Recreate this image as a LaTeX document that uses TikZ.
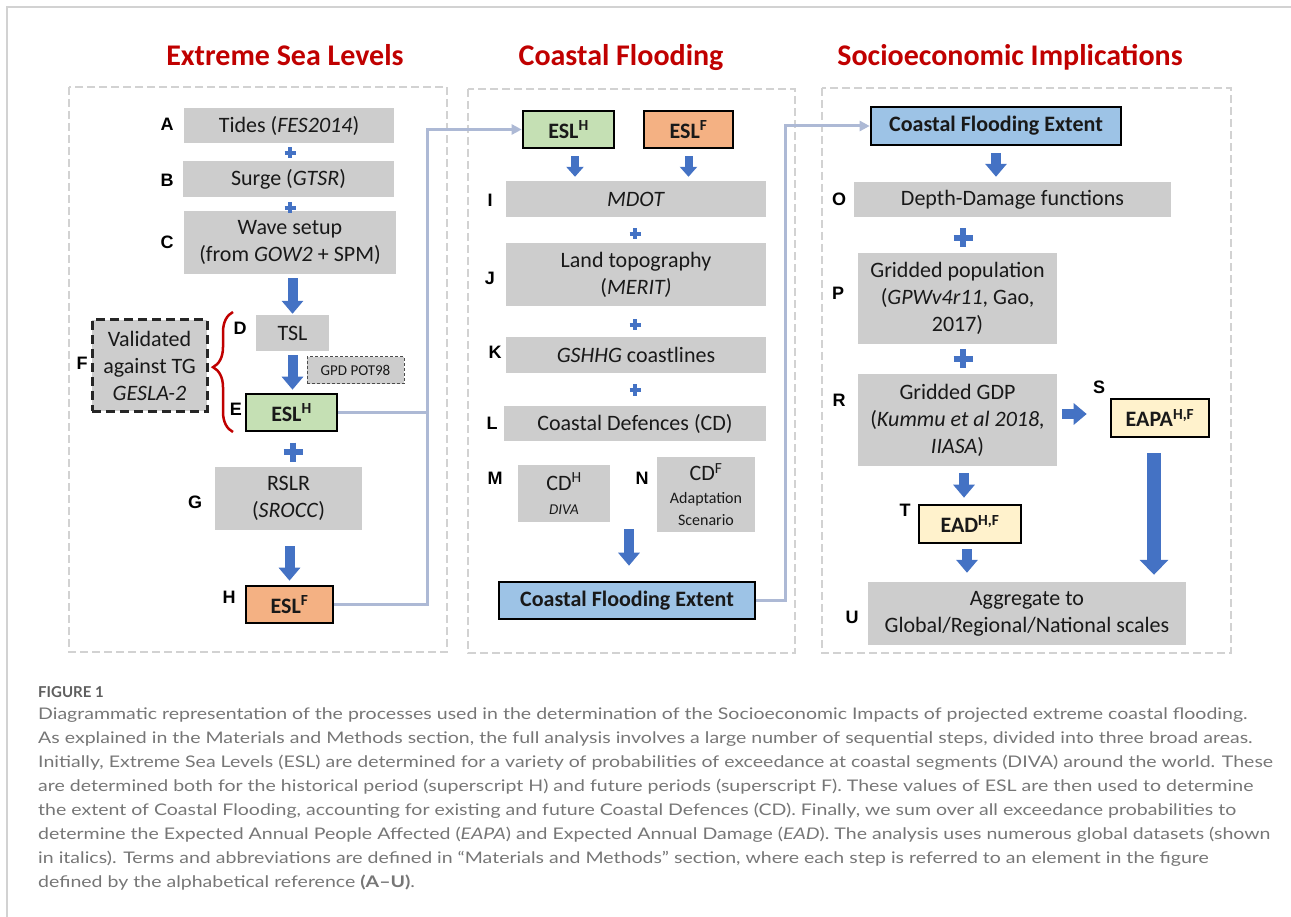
\documentclass[tikz,border=0pt]{standalone}
\usepackage{fontspec}
\setmainfont{Carlito}
\newfontfamily\lblfont{Liberation Sans}
\newfontfamily\capfont{Lato}[FakeStretch=1.22]
\newfontfamily\capheadfont{Lato}
\usepackage{tikz}
\usetikzlibrary{positioning}
\usetikzlibrary{arrows.meta}
\usetikzlibrary{decorations.pathreplacing}

\definecolor{boxgray}{RGB}{205,205,205}
\definecolor{eslgreen}{RGB}{197,224,180}
\definecolor{eslorange}{RGB}{244,177,131}
\definecolor{floodblue}{RGB}{157,195,230}
\definecolor{impyellow}{RGB}{255,242,204}
\definecolor{flowblue}{RGB}{68,114,196}
\definecolor{linkgray}{RGB}{173,185,213}
\definecolor{titlered}{RGB}{192,0,0}
\definecolor{panelgray}{RGB}{210,210,210}
\definecolor{capgray}{RGB}{118,118,118}

\tikzset{
	proc/.style={fill=boxgray, inner sep=0pt, align=center, text=black!90, font=\fontsize{22}{27}\selectfont},
	keybox/.style={proc, draw=black, line width=2.6pt, font=\bfseries\fontsize{22}{27}\selectfont},
	lbl/.style={inner sep=0pt, font=\lblfont\bfseries\fontsize{18}{18}\selectfont},
	heading/.style={anchor=base, inner sep=0pt, text=titlered, font=\bfseries\fontsize{30}{30}\selectfont},
	panel/.style={draw=panelgray, line width=2pt, dash pattern=on 8pt off 4pt},
	frame/.style={draw=panelgray, line width=1.6pt},
	link/.style={draw=linkgray, line width=3pt},
	flow/.style={draw=flowblue, line width=10pt, -{Triangle[length=13pt, width=21pt]}},
	smallflow/.style={draw=flowblue, line width=8pt, -{Triangle[length=10pt, width=17pt]}},
	bigflow/.style={draw=flowblue, line width=14pt, -{Triangle[length=15pt, width=28pt]}},
	pics/smallplus/.style={code={
		\draw[flowblue, line width=4pt] (-5.5,0) -- (5.5,0) (0,-5.5) -- (0,5.5);
	}},
	pics/bigplus/.style={code={
		\draw[flowblue, line width=6.5pt] (-9.5,0) -- (9.5,0) (0,-9.5) -- (0,9.5);
	}},
	capline/.style={anchor=base west, inner sep=0pt, text=capgray, font=\capfont\fontsize{16}{24}\selectfont},
}

\begin{document}
\begin{tikzpicture}[x=1pt, y=-1pt]
		
		% ---------------------
		% Proper size --- Bounding box
		\useasboundingbox (0,0) rectangle (1291,917);
		\draw[frame] (7,917) -- (7,7) -- (1291,7);
		
		% ---------------------
		% Panels & headings
		\draw[panel] (69,87) rectangle (447,652);
		\draw[panel] (468,89) rectangle (795,653);
		\draw[panel] (822,88) rectangle (1231,653);
		
		\node[heading] (hSea) at (285,66) {Extreme Sea Levels};
		\node[heading] (hFlood) at (621,66) {Coastal Flooding};
		\node[heading] (hSocio) at (1010,66) {Socioeconomic Implications};
		
		% ---------------------
		% Extreme Sea Levels
		\node[proc, minimum width=210pt, minimum height=35pt] (tides) at (289,125.5) {Tides (\textit{FES2014})};
		\node[proc, minimum width=211pt, minimum height=36pt] (surge) at (288.5,179) {Surge (\textit{GTSR})};
		\node[proc, minimum width=212pt, minimum height=63pt] (wave) at (290,242.5) {Wave setup\\(from \textit{GOW2} + SPM)};
		\node[proc, minimum width=73pt, minimum height=36pt] (tsl) at (292.5,333) {TSL};
		\node[proc, minimum width=97pt, minimum height=27pt, draw=black!70, line width=1pt, dash pattern=on 3pt off 2pt, font=\fontsize{15}{15}\selectfont] (gpd) at (355.5,370.5) {GPD POT98};
		\node[keybox, fill=eslgreen, minimum width=91pt, minimum height=37pt] (eslh1) at (291.5,412.5) {ESL\textsuperscript{H}};
		\node[proc, minimum width=115pt, minimum height=91pt, draw=black!85, line width=3pt, dash pattern=on 9pt off 5pt] (valid) at (149.5,365.5) {Validated\\against TG\\\textit{GESLA-2}};
		\node[proc, minimum width=147pt, minimum height=63pt] (rslr) at (288.5,498.5) {RSLR\\(\textit{SROCC})};
		\node[keybox, fill=eslorange, minimum width=87pt, minimum height=37pt] (eslf1) at (289.5,604.5) {ESL\textsuperscript{F}};
		
		\node[lbl] (lA) at (167,124) {A};
		\node[lbl] (lB) at (167,180) {B};
		\node[lbl] (lC) at (167,242) {C};
		\node[lbl] (lD) at (240,328) {D};
		\node[lbl] (lE) at (236,409) {E};
		\node[lbl] (lF) at (82,363) {F};
		\node[lbl] (lG) at (195,502) {G};
		\node[lbl] (lH) at (229,597) {H};
		
		\pic at (290,153) {smallplus};
		\pic at (290,208) {smallplus};
		\pic at (293,452) {bigplus};
		
		\draw[flow, shorten <=4pt, shorten >=1pt] (tsl.north |- wave.south) -- (tsl.north);
		\draw[flow, shorten <=4pt, shorten >=3pt] (tsl.south) -- (tsl.south |- eslh1.north);
		\draw[flow, shorten <=16pt, shorten >=4pt] (eslf1.north |- rslr.south) -- (eslf1.north);
		
		\draw[titlered, line width=2.5pt, decorate, decoration={brace, amplitude=20pt, aspect=0.54}] (233,432) -- (233,312);
		
		% ---------------------
		% Coastal Flooding
		\node[keybox, fill=eslgreen, minimum width=91pt, minimum height=37pt] (eslh2) at (568.5,129.5) {ESL\textsuperscript{H}};
		\node[keybox, fill=eslorange, minimum width=89pt, minimum height=37pt] (eslf2) at (688.5,129.5) {ESL\textsuperscript{F}};
		\node[proc, minimum width=260pt, minimum height=36pt] (mdot) at (636,199) {\textit{MDOT}};
		\node[proc, minimum width=260pt, minimum height=63pt] (land) at (636,274.5) {Land topography\\(\textit{MERIT)}};
		\node[proc, minimum width=260pt, minimum height=36pt] (gshhg) at (636,355) {\textit{GSHHG} coastlines};
		\node[proc, minimum width=262pt, minimum height=35pt] (cdef) at (635,423.5) {Coastal Defences (CD)};
		\node[proc, minimum width=92pt, minimum height=57pt] (cdh) at (564,493.5) {CD\textsuperscript{H}\\[-3pt]{\fontsize{15}{18}\selectfont\itshape DIVA}};
		\node[proc, minimum width=98pt, minimum height=75pt] (cdf) at (706,494.5) {CD\textsuperscript{F}\\[-4pt]{\fontsize{16}{20}\selectfont Adaptation}\\[-5pt]{\fontsize{16}{20}\selectfont Scenario}};
		\node[keybox, fill=floodblue, minimum width=256pt, minimum height=37pt] (cfe1) at (627,600.5) {Coastal Flooding Extent};
		
		\node[lbl] (lI) at (490,200) {I};
		\node[lbl] (lJ) at (490,278) {J};
		\node[lbl] (lK) at (495,352) {K};
		\node[lbl] (lL) at (492,423) {L};
		\node[lbl] (lM) at (495,478) {M};
		\node[lbl] (lN) at (642,478) {N};
		
		\pic at (635,234) {smallplus};
		\pic at (635,325) {smallplus};
		\pic at (635,390) {smallplus};
		
		\draw[smallflow, shorten <=7pt, shorten >=4pt] ([xshift=6.5pt]eslh2.south) -- ([xshift=6.5pt]eslh2.south |- mdot.north);
		\draw[smallflow, shorten <=7pt, shorten >=4pt] (eslf2.south) -- (eslf2.south |- mdot.north);
		\draw[flow, shorten <=7pt, shorten >=15pt] ([xshift=2pt]cfe1.north |- cdh.south) -- ([xshift=2pt]cfe1.north);
		
		% ---------------------
		% Socioeconomic Implications
		\node[keybox, fill=floodblue, minimum width=250pt, minimum height=38pt] (cfe2) at (996,126) {Coastal Flooding Extent};
		\node[proc, minimum width=317pt, minimum height=35pt] (depth) at (1012.5,199.5) {Depth-Damage functions};
		\node[proc, minimum width=199pt, minimum height=91pt] (pop) at (957.5,298.5) {Gridded population\\(\textit{GPWv4r11}, Gao,\\2017)};
		\node[proc, minimum width=199pt, minimum height=92pt] (gdp) at (957.5,420) {Gridded GDP\\(\textit{Kummu et al 2018,}\\\textit{IIASA})};
		\node[keybox, fill=impyellow, minimum width=98pt, minimum height=38pt] (eapa) at (1160,418) {EAPA\textsuperscript{H,F}};
		\node[keybox, fill=impyellow, minimum width=102pt, minimum height=38pt] (ead) at (970,524) {EAD\textsuperscript{H,F}};
		\node[proc, minimum width=318pt, minimum height=63pt] (aggr) at (1027,613.5) {Aggregate to\\Global/Regional/National scales};
		
		\node[lbl] (lO) at (839,199) {O};
		\node[lbl] (lP) at (838,293) {P};
		\node[lbl] (lR) at (839,400) {R};
		\node[lbl] (lS) at (1099,387) {S};
		\node[lbl] (lT) at (905,510) {T};
		\node[lbl] (lU) at (852,617) {U};
		
		\pic at (963,238) {bigplus};
		\pic at (963,359) {bigplus};
		
		\draw[flow, shorten <=7pt, shorten >=5pt] (cfe2.south) -- (cfe2.south |- depth.north);
		\draw[flow, shorten <=5pt, shorten >=23pt] ([yshift=6pt]gdp.east) -- ([yshift=6pt]gdp.east -| eapa.west);
		\draw[flow, shorten <=7pt, shorten >=6pt] ([xshift=-6pt]ead.north |- gdp.south) -- ([xshift=-6pt]ead.north);
		\draw[flow, shorten <=5pt, shorten >=9pt] ([xshift=-3pt]ead.south) -- ([xshift=-3pt]ead.south |- aggr.north);
		\draw[bigflow, shorten <=15pt, shorten >=7pt] ([xshift=-6pt]eapa.south) -- ([xshift=-6pt]eapa.south |- aggr.north);
		
		% ---------------------
		% Links between panels
		\coordinate (busL) at (427,604.5);
		\coordinate (busR) at (785,600.5);
		\draw[link] (eslh1.east) -- (eslh1.east -| busL);
		\draw[link, -{Triangle[length=10pt, width=10pt]}] (eslf1.east) -| (busL) |- (eslh2.west);
		\draw[link, -{Triangle[length=10pt, width=10pt]}] (cfe1.east) -| (busR) |- (cfe2.west);
		
		% ---------------------
		% Caption
		\node[capline, font=\capheadfont\bfseries\fontsize{15}{15}\selectfont, text=capgray!80!black] (figno) at (38,697) {FIGURE 1};
		\foreach \txt [count=\i] in {
			{Diagrammatic representation of the processes used in the determination of the Socioeconomic Impacts of projected extreme coastal flooding.},
			{As explained in the Materials and Methods section, the full analysis involves a large number of sequential steps, divided into three broad areas.},
			{Initially, Extreme Sea Levels (ESL) are determined for a variety of probabilities of exceedance at coastal segments (DIVA) around the world. These},
			{are determined both for the historical period (superscript H) and future periods (superscript F). These values of ESL are then used to determine},
			{the extent of Coastal Flooding, accounting for existing and future Coastal Defences (CD). Finally, we sum over all exceedance probabilities to},
			{determine the Expected Annual People Affected (\textit{EAPA}) and Expected Annual Damage (\textit{EAD}). The analysis uses numerous global datasets (shown},
			{in italics). Terms and abbreviations are defined in “Materials and Methods” section, where each step is referred to an element in the figure},
			{defined by the alphabetical reference \textbf{(A–U)}.}}
		{
			\node[capline] (cap\i) at (38,695+24*\i) {\txt};
		}
		
\end{tikzpicture}
\end{document}
